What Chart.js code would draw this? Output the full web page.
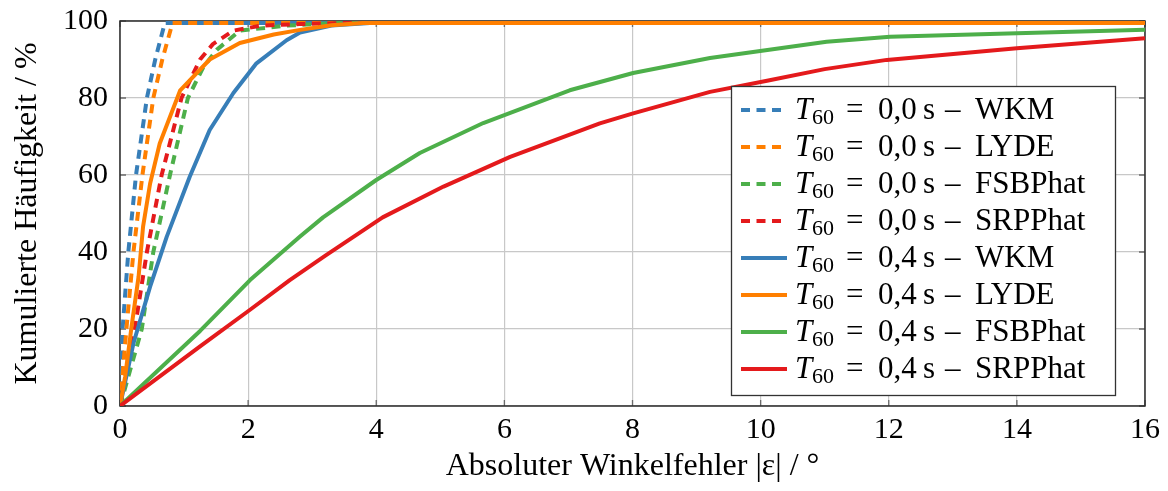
<!DOCTYPE html>
<html>
<head>
<meta charset="utf-8">
<script src="https://cdn.jsdelivr.net/npm/chart.js@4.4.0/dist/chart.umd.min.js"></script>
<style>
  html, body { margin: 0; padding: 0; background: #ffffff; }
  #wrap { width: 1168px; height: 491px; position: relative; }
</style>
</head>
<body>
<div id="wrap"><canvas id="c" width="1168" height="491"></canvas></div>
<script>
// ---------- data ----------
const xTickValues = [0, 2, 4, 6, 8, 10, 12, 14, 16];
const yTickValues = [0, 20, 40, 60, 80, 100];
const xAxisTitle = 'Absoluter Winkelfehler |ε| / °';
const yAxisTitle = 'Kumulierte Häufigkeit / %';
const methods = ['WKM', 'LYDE', 'FSBPhat', 'SRPPhat'];
const reverbTimes = ['0,0', '0,4'];

// T60 = 0,0 s
const wkm00X  = [0, 0.04, 0.13, 0.25, 0.42, 0.55, 0.70, 16];
const wkm00Y  = [0, 20, 40, 60, 80, 90, 99.5, 99.5];
const lyde00X = [0, 0.10, 0.21, 0.35, 0.52, 0.66, 0.82, 16];
const lyde00Y = [0, 20, 40, 60, 80, 90, 99.5, 99.5];
const fsb00X  = [0, 0.34, 0.52, 0.78, 1.06, 1.30, 1.51, 1.87, 2.6, 3.4, 16];
const fsb00Y  = [0, 20, 40, 60, 80, 88, 92.5, 97.5, 98.8, 99.5, 99.5];
const srp00X  = [0, 0.23, 0.42, 0.65, 0.96, 1.25, 1.45, 1.77, 2.2, 2.8, 3.6, 16];
const srp00Y  = [0, 20, 40, 60, 80, 90, 94, 97.5, 98.8, 99.2, 99.5, 99.5];

// T60 = 0,4 s
const wkm04X  = [0, 0.21, 0.47, 0.73, 1.09, 1.40, 1.77, 2.13, 2.6, 2.81, 3.3, 3.9, 16];
const wkm04Y  = [0, 16.3, 31, 44, 59.6, 71.7, 81.3, 89, 95, 97, 98.8, 99.5, 99.5];
const lyde04X = [0, 0.08, 0.18, 0.29, 0.36, 0.47, 0.62, 0.94, 1.4, 1.87, 2.4, 2.81, 3.3, 3.8, 16];
const lyde04Y = [0, 7.6, 20.6, 33.6, 46.6, 57.8, 68.2, 82, 90, 94.3, 96.5, 97.7, 98.9, 99.5, 99.5];
const fsb04X  = [0, 1.25, 2.03, 2.81, 3.17, 4.0, 4.68, 5.67, 7.02, 8.01, 9.21, 11.03, 12.02, 14.0, 16];
const fsb04Y  = [0, 19.5, 32.7, 44, 49, 58.7, 65.7, 73.5, 82, 86.5, 90.4, 94.6, 95.9, 96.8, 97.7];
const srp04X  = [0, 1.25, 2.03, 2.65, 3.2, 4.1, 5.05, 6.09, 7.49, 8.01, 9.21, 10.1, 11.0, 11.97, 14.0, 16];
const srp04Y  = [0, 15.5, 25, 32.7, 39, 49, 57, 64.7, 73.4, 76, 81.6, 84.5, 87.5, 89.9, 92.9, 95.5];

// ---------- styles ----------
const COLORS = ['#377eb8', '#ff7f00', '#4daf4a', '#e41a1c'];
const FONT = '"Liberation Serif", "Times New Roman", serif';
const DASH = [9, 6.5];

function pts(xs, ys) { return xs.map((x, i) => ({ x: x, y: ys[i] })); }

const seriesX = [wkm00X, lyde00X, fsb00X, srp00X, wkm04X, lyde04X, fsb04X, srp04X];
const seriesY = [wkm00Y, lyde00Y, fsb00Y, srp00Y, wkm04Y, lyde04Y, fsb04Y, srp04Y];

const datasets = seriesX.map((xs, i) => {
  const t = reverbTimes[Math.floor(i / 4)];
  const m = methods[i % 4];
  return {
    label: 'T60 = ' + t + ' s – ' + m,
    data: pts(xs, seriesY[i]),
    borderColor: COLORS[i % 4],
    backgroundColor: COLORS[i % 4],
    borderWidth: 4,
    borderDash: i < 4 ? DASH : [],
    borderCapStyle: 'butt',
    borderJoinStyle: 'round',
    pointRadius: 0,
    tension: 0,
    fill: false,
    order: 7 - i,
    _t: t,
    _m: m,
    _dashed: i < 4
  };
});

// inward ticks + frame
const framePlugin = {
  id: 'frame',
  beforeDatasetsDraw(chart) {
    const { ctx, chartArea: a, scales } = chart;
    ctx.save();
    ctx.strokeStyle = '#6b6b6b';
    ctx.lineWidth = 1.3;
    const L = 6;
    ctx.beginPath();
    xTickValues.forEach(v => {
      const px = scales.x.getPixelForValue(v);
      ctx.moveTo(px, a.bottom); ctx.lineTo(px, a.bottom - L);
      ctx.moveTo(px, a.top); ctx.lineTo(px, a.top + L);
    });
    yTickValues.forEach(v => {
      const py = scales.y.getPixelForValue(v);
      ctx.moveTo(a.left, py); ctx.lineTo(a.left + L, py);
      ctx.moveTo(a.right, py); ctx.lineTo(a.right - L, py);
    });
    ctx.stroke();
    ctx.strokeStyle = '#2b2b2b';
    ctx.lineWidth = 1.5;
    ctx.strokeRect(a.left, a.top, a.right - a.left, a.bottom - a.top);
    ctx.restore();
  }
};

// legend inside plot area
const legendPlugin = {
  id: 'innerLegend',
  afterDraw(chart) {
    const { ctx, chartArea: a } = chart;
    const w = 384, h = 309;
    const bx = a.right - 30 - w;
    const by = a.bottom - 11 - h;
    ctx.save();
    ctx.fillStyle = '#ffffff';
    ctx.fillRect(bx, by, w, h);
    ctx.strokeStyle = '#333333';
    ctx.lineWidth = 1.3;
    ctx.strokeRect(bx + 0.5, by + 0.5, w, h);
    const rowH = 37;
    chart.data.datasets.forEach((ds, i) => {
      const cy = by + 24 + i * rowH;
      ctx.strokeStyle = ds.borderColor;
      ctx.lineWidth = 4;
      ctx.lineCap = 'butt';
      ctx.setLineDash(ds._dashed ? DASH : []);
      ctx.beginPath();
      ctx.moveTo(bx + 10, cy);
      ctx.lineTo(bx + 56, cy);
      ctx.stroke();
      ctx.setLineDash([]);
      const tx = bx + 64;
      const base = cy + 9;
      ctx.fillStyle = '#000';
      ctx.textBaseline = 'alphabetic';
      ctx.textAlign = 'left';
      ctx.font = 'italic 31px ' + FONT;
      ctx.fillText('T', tx, base);
      ctx.font = '22px ' + FONT;
      ctx.fillText('60', tx + 17, base + 5);
      ctx.font = '31px ' + FONT;
      ctx.fillText('=', tx + 51, base);
      ctx.fillText(ds._t, tx + 83, base);
      ctx.fillText('s', tx + 128, base);
      ctx.fillText('–', tx + 150, base);
      ctx.fillText(ds._m, tx + 180, base);
    });
    ctx.restore();
  }
};

new Chart(document.getElementById('c'), {
  type: 'line',
  data: { datasets: datasets },
  options: {
    responsive: false,
    animation: false,
    devicePixelRatio: 1,
    layout: { padding: { top: 21, right: 23, left: 0, bottom: 0 } },
    plugins: { legend: { display: false }, tooltip: { enabled: false } },
    scales: {
      x: {
        type: 'linear',
        min: 0, max: 16,
        afterBuildTicks(s) { s.ticks = xTickValues.map(v => ({ value: v })); },
        afterFit(s) { s.height = 85; s.paddingLeft = 0; s.paddingRight = 0; },
        ticks: { color: '#000', font: { family: FONT, size: 30 }, padding: 6, maxRotation: 0 },
        grid: { color: '#c8c8c8', lineWidth: 1.2, drawTicks: false, tickLength: 0 },
        border: { display: false },
        title: { display: true, text: xAxisTitle, color: '#000', font: { family: FONT, size: 32 }, padding: { top: 0, bottom: 5 } }
      },
      y: {
        type: 'linear',
        min: 0, max: 100,
        afterBuildTicks(s) { s.ticks = yTickValues.map(v => ({ value: v })); },
        afterFit(s) { s.width = 120; s.paddingTop = 0; s.paddingBottom = 0; },
        ticks: { color: '#000', font: { family: FONT, size: 30 }, padding: 12 },
        grid: { color: '#c8c8c8', lineWidth: 1.2, drawTicks: false, tickLength: 0 },
        border: { display: false },
        title: { display: true, text: yAxisTitle, color: '#000', font: { family: FONT, size: 32 }, padding: { top: 8, bottom: 0 } }
      }
    }
  },
  plugins: [framePlugin, legendPlugin]
});
</script>
</body>
</html>
